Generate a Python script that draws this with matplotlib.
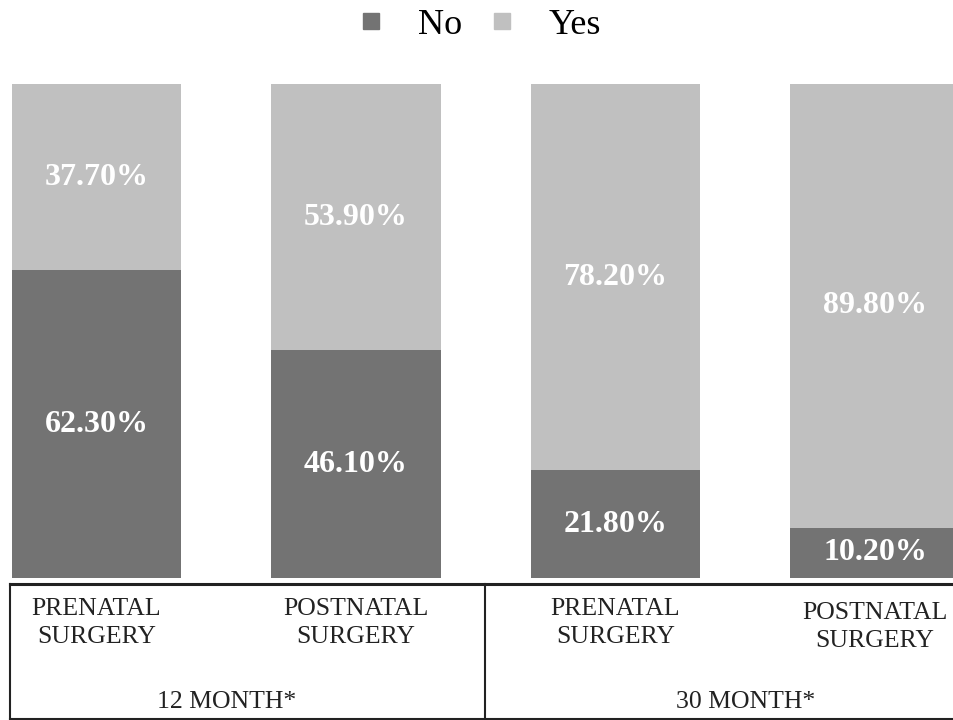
import matplotlib.pyplot as plt
from matplotlib.lines import Line2D
import numpy as np

plt.rcParams['font.family'] = ['Liberation Serif', 'DejaVu Serif']

# data
groups = ['12 MONTH*', '30 MONTH*']
categories = ['PRENATAL\nSURGERY', 'POSTNATAL\nSURGERY', 'PRENATAL\nSURGERY', 'POSTNATAL\nSURGERY']
no_vals = [62.3, 46.1, 21.8, 10.2]
yes_vals = [37.7, 53.9, 78.2, 89.8]

dark = '#737373'
light = '#c0c0c0'

W, H = 954, 720
fig = plt.figure(figsize=(9.54, 7.2), dpi=100)
# axes spans bar area: bottom y=578px, top y=84px
ax = fig.add_axes([0, 1 - 578 / H, 1, (578 - 84) / H])

x = np.arange(len(categories))
width = 0.655
ax.bar(x, no_vals, width, color=dark, label='No')
ax.bar(x, yes_vals, width, bottom=no_vals, color=light, label='Yes')

for xi, n, y in zip(x, no_vals, yes_vals):
    ax.text(xi, n / 2, '%.2f%%' % n, ha='center', va='center',
            color='white', fontsize=23, fontweight='bold')
    ax.text(xi, n + y / 2, '%.2f%%' % y, ha='center', va='center',
            color='white', fontsize=23, fontweight='bold')

ax.set_xlim(-96.5 / 259.5, (W - 96.5) / 259.5)
ax.set_ylim(0, 100)
ax.axis('off')

# labels under the bars
trans = ax.get_xaxis_transform()
for xi, lab in zip(x, categories):
    dy = 4 if xi == 3 else 0
    ax.text(xi, -(45 + dy) / 494, lab, transform=trans, ha='center', va='center',
            fontsize=18.5, color='#222222', linespacing=1.3, clip_on=False)
for gi, g in enumerate(groups):
    ax.text(2 * gi + 0.5, -124 / 494, g, transform=trans, ha='center', va='center',
            fontsize=18.5, color='#222222', clip_on=False)

# box lines around the category labels (figure pixel coords)
def fl(x0, y0, x1, y1, lw):
    fig.add_artist(Line2D([x0 / W, x1 / W], [1 - y0 / H, 1 - y1 / H],
                          color='#222222', lw=lw, transform=fig.transFigure))

fl(10, 584, W, 584, 2.2)
fl(10, 584, 10, 719, 1.5)
fl(485, 584, 485, 719, 1.5)
fl(10, 719, W, 719, 1.5)

handles = [Line2D([], [], marker='s', ls='none', color=dark, markersize=11),
           Line2D([], [], marker='s', ls='none', color=light, markersize=11)]
fig.legend(handles, ['No', 'Yes'], loc='center', bbox_to_anchor=(0.5, 1 - 25 / H),
           ncol=2, frameon=False, fontsize=26, handlelength=1.0,
           handletextpad=0.8, columnspacing=0.6)

fig.savefig('out.png', dpi=100)
